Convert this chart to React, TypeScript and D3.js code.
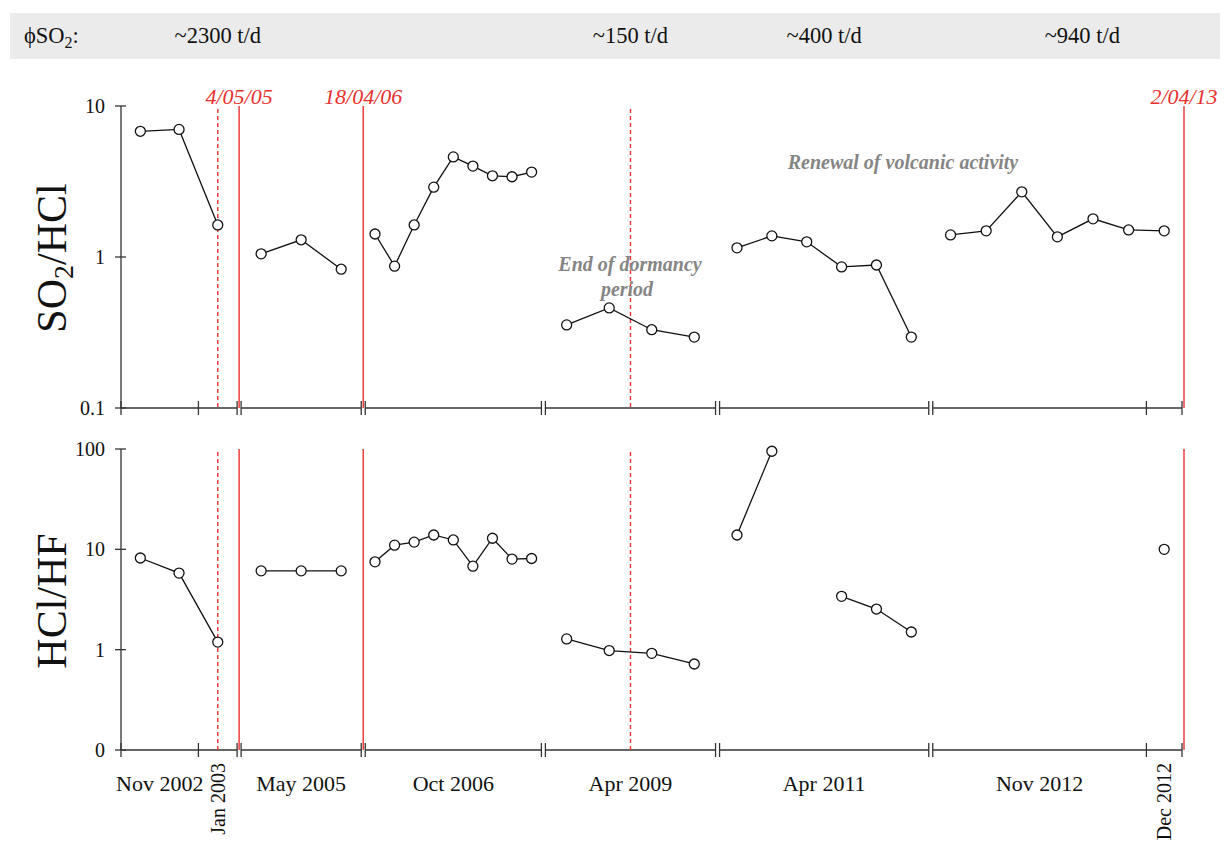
import React from "react";
import * as d3 from "d3";

// ---- data ----
const segmentSizes = [3, 3, 9, 4, 6, 7]; // samples per campaign
const segmentSpans = [116, 120, 176, 170, 209, 249]; // relative widths of campaigns on the broken axis

const so2hcl: (number | null)[][] = [
  [6.8, 7.0, 1.63],
  [1.05, 1.3, 0.83],
  [1.42, 0.87, 1.63, 2.9, 4.6, 4.0, 3.45, 3.4, 3.65],
  [0.355, 0.46, 0.33, 0.295],
  [1.15, 1.38, 1.26, 0.86, 0.885, 0.295],
  [1.4, 1.49, 2.7, 1.36, 1.79, 1.51, 1.49],
];

const hclhf: (number | null)[][] = [
  [8.2, 5.8, 1.19],
  [6.1, 6.1, 6.1],
  [7.5, 11.0, 11.8, 13.9, 12.4, 6.8, 12.9, 8.0, 8.1],
  [1.28, 0.98, 0.92, 0.72],
  [13.9, 95, null, 3.4, 2.54, 1.5],
  [null, null, null, null, null, null, 10.0],
];

// x labels: segment, slot-range (from..to) or single slot (rotated)
const xLabels = [
  { seg: 0, from: 0, to: 2, text: "Nov 2002", rotated: false },
  { seg: 0, from: 2, to: 3, text: "Jan 2003", rotated: true },
  { seg: 1, from: 0, to: 3, text: "May 2005", rotated: false },
  { seg: 2, from: 0, to: 9, text: "Oct 2006", rotated: false },
  { seg: 3, from: 0, to: 4, text: "Apr 2009", rotated: false },
  { seg: 4, from: 0, to: 6, text: "Apr 2011", rotated: false },
  { seg: 5, from: 0, to: 6, text: "Nov 2012", rotated: false },
  { seg: 5, from: 6, to: 7, text: "Dec 2012", rotated: true },
];
const innerTicks = [
  { seg: 0, at: 2 },
  { seg: 5, at: 6 },
];

// eruptions (solid red, after segment) and dashed markers (inside segment)
const eruptions = [
  { afterSeg: 0, label: "4/05/05" },
  { afterSeg: 1, label: "18/04/06" },
  { afterSeg: 5, label: "2/04/13" },
];
const dashedMarks = [
  { seg: 0, at: 2.5 },
  { seg: 3, at: 2.0 },
];

const fluxLabels = [
  { seg: 0, at: 2.5, text: "~2300 t/d" },
  { seg: 3, at: 2.0, text: "~150 t/d" },
  { seg: 4, at: 3.0, text: "~400 t/d" },
  { seg: 5, at: 4.2, text: "~940 t/d" },
];

const topTicks = [0.1, 1, 10];
const bottomTicks = [0.1, 1, 10, 100];

// ---- layout ----
const W = 1225;
const H = 843;
const X0 = 121;
const GAP = 4;
const X1 = 1182;
const FONT = "'Liberation Serif', 'Times New Roman', serif";
const RED = "#e8312f";
const AX = "#333";

const totalSpan = d3.sum(segmentSpans);
const spanScale = d3
  .scaleLinear()
  .domain([0, totalSpan])
  .range([0, X1 - X0 - GAP * (segmentSpans.length - 1)]);

const segStart: number[] = [];
const segEnd: number[] = [];
{
  let cur = X0;
  segmentSpans.forEach((s) => {
    segStart.push(cur);
    cur += spanScale(s);
    segEnd.push(cur);
    cur += GAP;
  });
}
const segX = segmentSizes.map((n, i) =>
  d3.scaleLinear().domain([0, n]).range([segStart[i], segEnd[i]])
);

const yTop = d3.scaleLog().domain([0.1, 10]).range([408, 106]);
const yBot = d3.scaleLog().domain([0.1, 100]).range([750, 449]);

type Pt = { x: number; v: number | null };

function Panel({
  data,
  y,
  ticks,
  fmt,
}: {
  data: (number | null)[][];
  y: d3.ScaleLogarithmic<number, number>;
  ticks: number[];
  fmt: (v: number) => string;
}) {
  const [yb, yt] = y.range();
  const line = d3
    .line<Pt>()
    .defined((d) => d.v != null)
    .x((d) => d.x)
    .y((d) => y(d.v as number));
  return (
    <g>
      {/* y axis */}
      <line x1={X0} x2={X0} y1={yt} y2={yb} stroke={AX} strokeWidth={1.3} />
      {ticks.map((t) => (
        <g key={t}>
          <line x1={X0 - 6} x2={X0 + 5} y1={y(t)} y2={y(t)} stroke={AX} strokeWidth={1.3} />
          <text
            x={X0 - 16}
            y={y(t)}
            dy="0.35em"
            textAnchor="end"
            fontFamily={FONT}
            fontSize={20}
            fill="#111"
          >
            {fmt(t)}
          </text>
        </g>
      ))}
      {/* broken x axis */}
      {segmentSizes.map((n, i) => (
        <g key={i}>
          <line x1={segStart[i]} x2={segEnd[i]} y1={yb} y2={yb} stroke={AX} strokeWidth={1.3} />
          <line x1={segStart[i]} x2={segStart[i]} y1={yb - 7} y2={yb + 7} stroke={AX} strokeWidth={1.3} />
          <line x1={segEnd[i]} x2={segEnd[i]} y1={yb - 7} y2={yb + 7} stroke={AX} strokeWidth={1.3} />
        </g>
      ))}
      {innerTicks.map((t, i) => {
        const x = segX[t.seg](t.at);
        return <line key={i} x1={x} x2={x} y1={yb - 7} y2={yb + 7} stroke={AX} strokeWidth={1.3} />;
      })}
      {/* red markers */}
      {dashedMarks.map((m, i) => {
        const x = segX[m.seg](m.at);
        return (
          <line
            key={i}
            x1={x}
            x2={x}
            y1={yt + 3}
            y2={yb}
            stroke={RED}
            strokeWidth={1.4}
            strokeDasharray="4,3"
          />
        );
      })}
      {eruptions.map((e, i) => {
        const x = segEnd[e.afterSeg] + GAP / 2;
        return <line key={i} x1={x} x2={x} y1={yt} y2={yb} stroke={RED} strokeWidth={1.4} />;
      })}
      {/* series */}
      {data.map((vals, si) => {
        const pts: Pt[] = vals.map((v, j) => ({ x: segX[si](j + 0.5), v }));
        return (
          <g key={si}>
            <path d={line(pts) || ""} fill="none" stroke="#111" strokeWidth={1.3} />
            {pts
              .filter((p) => p.v != null)
              .map((p, j) => (
                <circle
                  key={j}
                  cx={p.x}
                  cy={y(p.v as number)}
                  r={5}
                  fill="white"
                  stroke="#111"
                  strokeWidth={1.3}
                />
              ))}
          </g>
        );
      })}
    </g>
  );
}

export default function App() {
  return (
    <svg
      width={W}
      height={H}
      viewBox={`0 0 ${W} ${H}`}
      style={{ position: "absolute", left: 0, top: 0, background: "white" }}
    >
      <rect x={0} y={0} width={W} height={H} fill="white" />
      {/* flux banner */}
      <rect x={10} y={13} width={1210} height={46} fill="#ebebeb" />
      <text x={24} y={43} fontFamily={FONT} fontSize={22.5} fill="#111">
        ϕSO
        <tspan fontSize={16} dy={5}>
          2
        </tspan>
        <tspan dy={-5}>:</tspan>
      </text>
      {fluxLabels.map((f, i) => (
        <text
          key={i}
          x={segX[f.seg](f.at)}
          y={43}
          textAnchor="middle"
          fontFamily={FONT}
          fontSize={22.5}
          fill="#111"
        >
          {f.text}
        </text>
      ))}

      {/* eruption date labels */}
      {eruptions.map((e, i) => (
        <text
          key={i}
          x={segEnd[e.afterSeg] + GAP / 2}
          y={104}
          textAnchor="middle"
          fontFamily={FONT}
          fontStyle="italic"
          fontSize={22}
          fill={RED}
        >
          {e.label}
        </text>
      ))}

      <Panel data={so2hcl} y={yTop} ticks={topTicks} fmt={(v) => (v < 1 ? "0.1" : String(v))} />
      <Panel data={hclhf} y={yBot} ticks={bottomTicks} fmt={(v) => (v < 1 ? "0" : String(v))} />

      {/* y titles */}
      <text
        transform="translate(66,258) rotate(-90)"
        textAnchor="middle"
        fontFamily={FONT}
        fontSize={42}
        fill="#111"
      >
        SO
        <tspan fontSize={28} dy={7}>
          2
        </tspan>
        <tspan dy={-7}>/HCl</tspan>
      </text>
      <text
        transform="translate(66,601) rotate(-90)"
        textAnchor="middle"
        fontFamily={FONT}
        fontSize={42}
        fill="#111"
      >
        HCl/HF
      </text>

      {/* annotations */}
      <text
        x={630}
        y={271}
        textAnchor="middle"
        fontFamily={FONT}
        fontStyle="italic"
        fontWeight="bold"
        fontSize={20}
        fill="#858585"
      >
        End of dormancy
      </text>
      <text
        x={627}
        y={296}
        textAnchor="middle"
        fontFamily={FONT}
        fontStyle="italic"
        fontWeight="bold"
        fontSize={20}
        fill="#858585"
      >
        period
      </text>
      <text
        x={903}
        y={169}
        textAnchor="middle"
        fontFamily={FONT}
        fontStyle="italic"
        fontWeight="bold"
        fontSize={20}
        fill="#858585"
      >
        Renewal of volcanic activity
      </text>

      {/* x labels */}
      {xLabels.map((l, i) => {
        const xa = segX[l.seg](l.from);
        const xb = segX[l.seg](l.to);
        const cx = (xa + xb) / 2;
        if (l.rotated) {
          return (
            <text
              key={i}
              transform={`translate(${cx + 7},763) rotate(-90)`}
              textAnchor="end"
              fontFamily={FONT}
              fontSize={20}
              fill="#111"
            >
              {l.text}
            </text>
          );
        }
        return (
          <text
            key={i}
            x={cx}
            y={791}
            textAnchor="middle"
            fontFamily={FONT}
            fontSize={22}
            fill="#111"
          >
            {l.text}
          </text>
        );
      })}
    </svg>
  );
}
